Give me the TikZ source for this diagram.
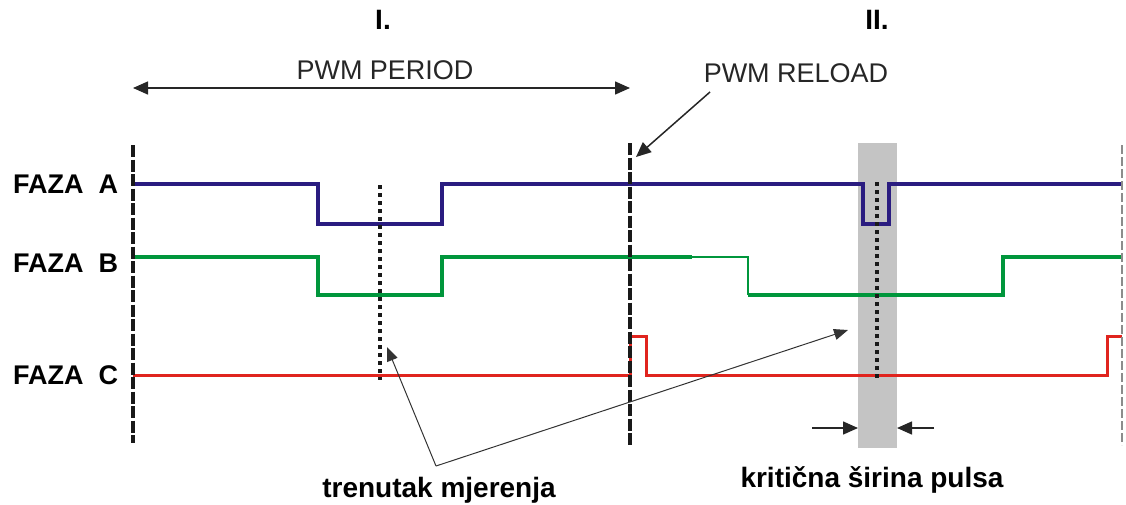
\documentclass[tikz,border=0pt]{standalone}
\usepackage{fontspec}
\setmainfont{Liberation Sans}
\usetikzlibrary{arrows.meta}
\definecolor{plava}{HTML}{2A1C80}
\definecolor{zelena}{HTML}{00963C}
\definecolor{crvena}{HTML}{E0241E}
\definecolor{traka}{HTML}{C4C4C4}
\begin{document}
\begin{tikzpicture}[
  x=1pt, y=-1pt,
  font=\fontsize{27}{32}\selectfont,
  lbl/.style={inner sep=0pt, text=black!85},
  naslov/.style={inner sep=0pt, font=\fontsize{28}{32}\selectfont\bfseries},
  faza/.style={inner sep=0pt, anchor=west, font=\fontsize{27}{32}\selectfont\bfseries},
  sigA/.style={draw=plava, line width=4pt, line join=miter},
  sigB/.style={draw=zelena, line width=4pt, line join=miter},
  sigC/.style={draw=crvena, line width=3pt, line join=miter},
  reload/.style={black!90, line width=4pt, dash pattern=on 12pt off 2.5pt},
  kraj/.style={black!45, line width=1.5pt, dash pattern=on 9pt off 3pt},
  mjer/.style={black!90, line width=3.5pt, dash pattern=on 3.5pt off 4.5pt},
  arr/.style={-{Triangle[length=15pt, width=13pt]}, line width=1.5pt, black!85},
  tanka/.style={-{Triangle[length=14pt, width=11pt]}, line width=1pt, black!80}
]
  \useasboundingbox (0,0) rectangle (1126,504);
  %% --- critical pulse band ---
  \fill[traka] (858,143) rectangle (897,448);
  %% --- phase signals ---
  \draw[sigA] (133,184) -- (318,184) -- (318,224) -- (442,224) -- (442,184)
              -- (863,184) -- (863,224) -- (889,224) -- (889,184) -- (1122,184);
  \draw[sigB] (133,257) -- (318,257) -- (318,295) -- (442,295) -- (442,257) -- (692,257);
  \draw[sigB, line width=2pt] (692,257) -- (748,257) -- (748,295);
  \draw[sigB] (748,295) -- (1003,295) -- (1003,257) -- (1122,257);
  \draw[sigC] (133,375) -- (630,375) -- (630,336) -- (646,336) -- (646,375)
              -- (1107,375) -- (1107,336) -- (1122,336);
  %% --- measuring instants ---
  \draw[mjer] (380,185) -- (380,380);
  \draw[mjer] (877,182) -- (877,378);
  %% --- period borders ---
  \draw[reload] (133,145) -- (133,443);
  \draw[reload] (630,143) -- (630,445);
  \draw[kraj] (1122,145) -- (1122,445);
  %% --- labels ---
  \node[faza] (fA) at (13,184) {FAZA\ \ A};
  \node[faza] (fB) at (13,263) {FAZA\ \ B};
  \node[faza] (fC) at (13,375) {FAZA\ \ C};
  \node[naslov] (prvi) at (383,20) {I.};
  \node[naslov] (drugi) at (877,20) {II.};
  \node[lbl] (per) at (385,70) {PWM PERIOD};
  \node[lbl] (rel) at (796,73) {PWM RELOAD};
  \node[naslov] (trm) at (439,490) {trenutak mjerenja};
  \node[naslov] (ksp) at (872,480) {kritična širina pulsa};
  %% --- arrows ---
  \coordinate (p0) at (133,88);
  \coordinate (p1) at (630,88);
  \draw[arr, {Triangle[length=15pt, width=13pt]}-{Triangle[length=15pt, width=13pt]}] (p0) -- (p1);
  \coordinate (r0) at (710,92);
  \coordinate (r1) at (636,157);
  \draw[arr] (r0) -- (r1);
  \coordinate (tm) at (436,466);
  \coordinate (tm1) at (387,347);
  \coordinate (tm2) at (848,330);
  \draw[tanka] (tm) -- (tm1);
  \draw[tanka] (tm) -- (tm2);
  \coordinate (k0) at (812,428);
  \coordinate (k1) at (934,428);
  \draw[arr] (k0) -- (858,428);
  \draw[arr] (k1) -- (897,428);
\end{tikzpicture}
\end{document}
